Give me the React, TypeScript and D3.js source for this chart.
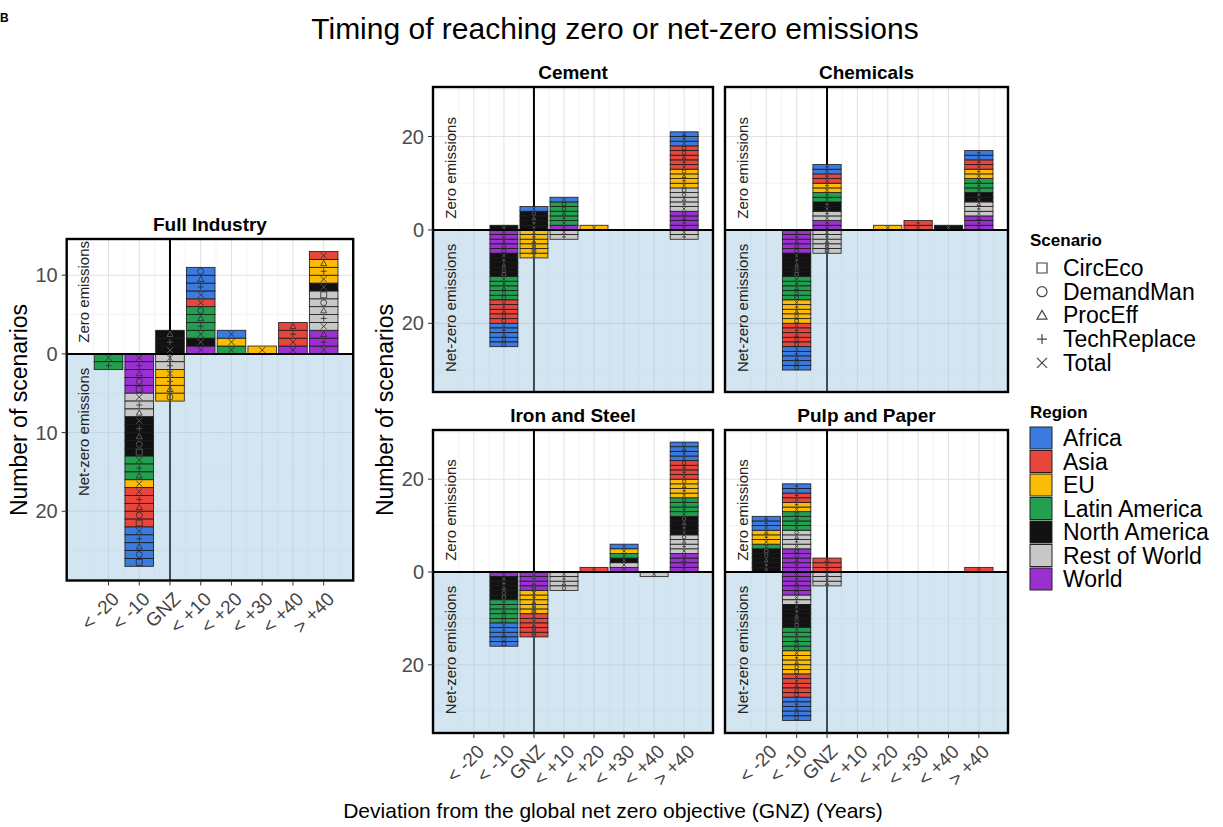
import React from "react";
import * as d3 from "d3";

const width = 1223;
const height = 827;
const font = "'Liberation Sans', Arial, sans-serif";

const categories = ["< -20", "< -10", "GNZ", "< +10", "< +20", "< +30", "< +40", "> +40"];
const regions = ["Africa", "Asia", "EU", "Latin America", "North America", "Rest of World", "World"];
const regionColors = ["#3b7be0", "#e8453c", "#fbbc05", "#22a050", "#111111", "#c8c8c8", "#9b30d0"];
const scenarios = ["CircEco", "DemandMan", "ProcEff", "TechReplace", "Total"];

// counts per category, columns in region order
const fullZero = [
  [0, 0, 0, 0, 0, 0, 0],
  [0, 0, 0, 0, 0, 0, 0],
  [0, 0, 0, 0, 3, 0, 0],
  [4, 1, 0, 4, 1, 0, 1],
  [1, 0, 1, 1, 0, 0, 0],
  [0, 0, 1, 0, 0, 0, 0],
  [0, 3, 0, 0, 0, 0, 1],
  [0, 1, 3, 0, 1, 5, 3],
];
const fullNet = [
  [0, 0, 0, 2, 0, 0, 0],
  [5, 5, 1, 3, 5, 3, 5],
  [0, 0, 4, 0, 0, 2, 0],
  [0, 0, 0, 0, 0, 0, 0],
  [0, 0, 0, 0, 0, 0, 0],
  [0, 0, 0, 0, 0, 0, 0],
  [0, 0, 0, 0, 0, 0, 0],
  [0, 0, 0, 0, 0, 0, 0],
];
const cementZero = [
  [0, 0, 0, 0, 0, 0, 0],
  [0, 0, 0, 0, 1, 0, 0],
  [1, 0, 0, 0, 4, 0, 0],
  [1, 0, 0, 5, 0, 0, 1],
  [0, 0, 1, 0, 0, 0, 0],
  [0, 0, 0, 0, 0, 0, 0],
  [0, 0, 0, 0, 0, 0, 0],
  [3, 5, 4, 0, 0, 5, 4],
];
const cementNet = [
  [0, 0, 0, 0, 0, 0, 0],
  [5, 5, 0, 5, 5, 0, 5],
  [0, 0, 6, 0, 0, 0, 0],
  [0, 0, 0, 0, 0, 2, 0],
  [0, 0, 0, 0, 0, 0, 0],
  [0, 0, 0, 0, 0, 0, 0],
  [0, 0, 0, 0, 0, 0, 0],
  [0, 0, 0, 0, 0, 2, 0],
];
const chemZero = [
  [0, 0, 0, 0, 0, 0, 0],
  [0, 0, 0, 0, 0, 0, 0],
  [2, 2, 2, 2, 2, 2, 2],
  [0, 0, 0, 0, 0, 0, 0],
  [0, 0, 1, 0, 0, 0, 0],
  [0, 2, 0, 0, 0, 0, 0],
  [0, 0, 0, 0, 1, 0, 0],
  [2, 2, 2, 3, 2, 3, 3],
];
const chemNet = [
  [0, 0, 0, 0, 0, 0, 0],
  [5, 5, 5, 5, 5, 0, 5],
  [0, 0, 0, 0, 0, 5, 0],
  [0, 0, 0, 0, 0, 0, 0],
  [0, 0, 0, 0, 0, 0, 0],
  [0, 0, 0, 0, 0, 0, 0],
  [0, 0, 0, 0, 0, 0, 0],
  [0, 0, 0, 0, 0, 0, 0],
];
const ironZero = [
  [0, 0, 0, 0, 0, 0, 0],
  [0, 0, 0, 0, 0, 0, 0],
  [0, 0, 0, 0, 0, 0, 0],
  [0, 0, 0, 0, 0, 0, 0],
  [0, 1, 0, 0, 0, 0, 0],
  [1, 0, 1, 1, 1, 1, 1],
  [0, 0, 0, 0, 0, 0, 0],
  [4, 4, 4, 4, 4, 4, 4],
];
const ironNet = [
  [0, 0, 0, 0, 0, 0, 0],
  [5, 0, 0, 5, 5, 0, 1],
  [0, 5, 5, 0, 0, 0, 4],
  [0, 0, 0, 0, 0, 4, 0],
  [0, 0, 0, 0, 0, 0, 0],
  [0, 0, 0, 0, 0, 0, 0],
  [0, 0, 0, 0, 0, 1, 0],
  [0, 0, 0, 0, 0, 0, 0],
];
const pulpZero = [
  [3, 0, 3, 1, 5, 0, 0],
  [2, 2, 2, 4, 0, 4, 5],
  [0, 3, 0, 0, 0, 0, 0],
  [0, 0, 0, 0, 0, 0, 0],
  [0, 0, 0, 0, 0, 0, 0],
  [0, 0, 0, 0, 0, 0, 0],
  [0, 0, 0, 0, 0, 0, 0],
  [0, 1, 0, 0, 0, 0, 0],
];
const pulpNet = [
  [0, 0, 0, 0, 0, 0, 0],
  [5, 5, 5, 5, 5, 2, 5],
  [0, 0, 0, 0, 0, 3, 0],
  [0, 0, 0, 0, 0, 0, 0],
  [0, 0, 0, 0, 0, 0, 0],
  [0, 0, 0, 0, 0, 0, 0],
  [0, 0, 0, 0, 0, 0, 0],
  [0, 0, 0, 0, 0, 0, 0],
];

const fullTicks = [10, 0, -10, -20];
const sectorTicks = [20, 0, -20];

function symbolPath(s: string, r: number) {
  switch (s) {
    case "CircEco":
      return `M${-r},${-r}h${2 * r}v${2 * r}h${-2 * r}Z`;
    case "DemandMan":
      return d3.symbol(d3.symbolCircle, Math.PI * r * r)() as string;
    case "ProcEff":
      return `M0,${-r}L${r},${r * 0.75}L${-r},${r * 0.75}Z`;
    case "TechReplace":
      return `M${-r},0H${r}M0,${-r}V${r}`;
    default:
      return `M${-r},${-r}L${r},${r}M${r},${-r}L${-r},${r}`;
  }
}

type PanelProps = {
  title: string;
  zero: number[][];
  net: number[][];
  x0: number;
  y0: number;
  w: number;
  h: number;
  domain: [number, number];
  ticks: number[];
  yLabels: boolean;
  xLabels: boolean;
};

const Panel = ({ title, zero, net, x0, y0, w, h, domain, ticks, yLabels, xLabels }: PanelProps) => {
  const x = d3.scaleLinear().domain([-1.36, 7.96]).range([x0, x0 + w]);
  const y = d3.scaleLinear().domain(domain).range([y0 + h, y0]);
  const step = ticks[0] - ticks[1];
  const minor = d3.range(Math.ceil(domain[0] / step) * step - step / 2, domain[1], step).filter(v => v > domain[0]);
  const bw = (x(1) - x(0)) * 0.93;
  const zy = y(0);
  const cellH = Math.abs(y(1) - y(0));
  const r = Math.min(cellH * 0.38, 3);

  const stackKeys = d3.range(regions.length).reverse();
  const stacker = d3.stack<number[], number>().keys(stackKeys).value((d, k) => d[k]);
  const cells: { cx: number; lo: number; region: number; k: number; sign: number }[] = [];
  [zero, net].forEach((table, ti) => {
    const sign = ti === 0 ? 1 : -1;
    stacker(table).forEach(series => {
      series.forEach((seg, ci) => {
        const n = seg[1] - seg[0];
        for (let k = 0; k < n; k++) {
          cells.push({ cx: x(ci), lo: seg[0] + k, region: series.key, k, sign });
        }
      });
    });
  });

  const gnz = x(categories.indexOf("GNZ"));

  return (
    <g>
      <rect x={x0} y={y0} width={w} height={h} fill="#fff" />
      {minor.map(v => (
        <line key={"mh" + v} x1={x0} x2={x0 + w} y1={y(v)} y2={y(v)} stroke="#f0f0f0" strokeWidth={0.7} />
      ))}
      {d3.range(-1, 8).map(i => (
        <line key={"mv" + i} x1={x(i + 0.5)} x2={x(i + 0.5)} y1={y0} y2={y0 + h} stroke="#f0f0f0" strokeWidth={0.7} />
      ))}
      {ticks.map(t => (
        <line key={"gh" + t} x1={x0} x2={x0 + w} y1={y(t)} y2={y(t)} stroke="#e2e2e2" strokeWidth={1.1} />
      ))}
      {categories.map((c, i) => (
        <line key={"gv" + c} x1={x(i)} x2={x(i)} y1={y0} y2={y0 + h} stroke="#e2e2e2" strokeWidth={1.1} />
      ))}
      <line x1={gnz} x2={gnz} y1={y0} y2={y0 + h} stroke="#000" strokeWidth={2} />
      <rect x={x0} y={zy} width={w} height={y0 + h - zy} fill="#9ec5de" opacity={0.45} />
      <text
        transform={`translate(${x0 + 17},${zy - 62}) rotate(-90)`}
        textAnchor="middle"
        dominantBaseline="central"
        fontSize={15}
        fill="#222"
      >
        Zero emissions
      </text>
      <text
        transform={`translate(${x0 + 17},${zy + 78}) rotate(-90)`}
        textAnchor="middle"
        dominantBaseline="central"
        fontSize={15}
        fill="#222"
      >
        Net-zero emissions
      </text>
      {cells.map((c, i) => {
        const top = c.sign > 0 ? y(c.lo + 1) : y(-c.lo);
        const sc = scenarios[(scenarios.length - 1 - c.k + 5) % scenarios.length];
        return (
          <g key={i}>
            <rect
              x={c.cx - bw / 2}
              y={top}
              width={bw}
              height={cellH}
              fill={regionColors[c.region]}
              stroke="#1a1a1a"
              strokeWidth={0.8}
            />
            <path
              d={symbolPath(sc, r)}
              transform={`translate(${c.cx},${top + cellH / 2})`}
              fill="none"
              stroke={c.region === 4 ? "#666" : "#2a2a2a"}
              strokeWidth={0.8}
            />
          </g>
        );
      })}
      <line x1={x0} x2={x0 + w} y1={zy} y2={zy} stroke="#000" strokeWidth={2} />
      <line x1={gnz} x2={gnz} y1={zy} y2={y0 + h} stroke="#3d4d58" strokeWidth={1.6} />
      <rect x={x0} y={y0} width={w} height={h} fill="none" stroke="#000" strokeWidth={2.4} />
      <text x={x0 + w / 2} y={y0 - 8} textAnchor="middle" fontWeight="bold" fontSize={19}>
        {title}
      </text>
      {yLabels &&
        ticks.map(t => (
          <g key={"yt" + t}>
            <line x1={x0 - 5} x2={x0} y1={y(t)} y2={y(t)} stroke="#333" strokeWidth={1} />
            <text x={x0 - 9} y={y(t)} textAnchor="end" dominantBaseline="central" fontSize={20} fill="#4d4d4d">
              {Math.abs(t)}
            </text>
          </g>
        ))}
      {xLabels &&
        categories.map((c, i) => (
          <g key={"xt" + c}>
            <line x1={x(i)} x2={x(i)} y1={y0 + h} y2={y0 + h + 5} stroke="#333" strokeWidth={1} />
            <text
              transform={`translate(${x(i) + 2},${y0 + h + 10}) rotate(-45)`}
              textAnchor="end"
              dy="0.72em"
              fontSize={19}
              fill="#444"
            >
              {c}
            </text>
          </g>
        ))}
    </g>
  );
};

export default function App() {
  const fullDomain: [number, number] = [-28.8, 14.6];
  const sectorDomain: [number, number] = [-34.7, 30.6];
  return (
    <svg
      width={width}
      height={height}
      style={{ position: "absolute", left: 0, top: 0, background: "#fff" }}
      fontFamily={font}
    >
      <rect width={width} height={height} fill="#fff" />
      <text x={0} y={22} fontSize={12} fontWeight="bold">B</text>
      <text x={615} y={39} textAnchor="middle" fontSize={30}>
        Timing of reaching zero or net-zero emissions
      </text>

      <Panel title="Full Industry" zero={fullZero} net={fullNet} x0={66.7} y0={239} w={286.5} h={341.5}
        domain={fullDomain} ticks={fullTicks} yLabels xLabels />
      <Panel title="Cement" zero={cementZero} net={cementNet} x0={433} y0={87} w={280} h={305}
        domain={sectorDomain} ticks={sectorTicks} yLabels xLabels={false} />
      <Panel title="Chemicals" zero={chemZero} net={chemNet} x0={725} y0={87} w={283} h={305}
        domain={sectorDomain} ticks={sectorTicks} yLabels={false} xLabels={false} />
      <Panel title="Iron and Steel" zero={ironZero} net={ironNet} x0={433} y0={430} w={280} h={303}
        domain={sectorDomain} ticks={sectorTicks} yLabels xLabels />
      <Panel title="Pulp and Paper" zero={pulpZero} net={pulpNet} x0={725} y0={430} w={283} h={303}
        domain={sectorDomain} ticks={sectorTicks} yLabels={false} xLabels />

      <text transform="translate(27,410) rotate(-90)" textAnchor="middle" fontSize={23}>
        Number of scenarios
      </text>
      <text transform="translate(393,410) rotate(-90)" textAnchor="middle" fontSize={23}>
        Number of scenarios
      </text>
      <text x={613} y={818} textAnchor="middle" fontSize={21}>
        Deviation from the global net zero objective (GNZ) (Years)
      </text>

      <text x={1030} y={246} fontSize={17} fontWeight="bold">Scenario</text>
      {scenarios.map((s, i) => (
        <g key={s} transform={`translate(0,${268 + i * 23.7})`}>
          <path d={symbolPath(s, 5)} transform="translate(1042,0)" fill="none" stroke="#444" strokeWidth={1.2} />
          <text x={1063} y={8} fontSize={23}>{s}</text>
        </g>
      ))}
      <text x={1030} y={418} fontSize={17} fontWeight="bold">Region</text>
      {regions.map((rg, i) => (
        <g key={rg} transform={`translate(0,${438 + i * 23.5})`}>
          <rect x={1030} y={-11} width={22} height={22} fill={regionColors[i]} stroke="#222" strokeWidth={1} />
          <text x={1063} y={8} fontSize={23}>{rg}</text>
        </g>
      ))}
    </svg>
  );
}
